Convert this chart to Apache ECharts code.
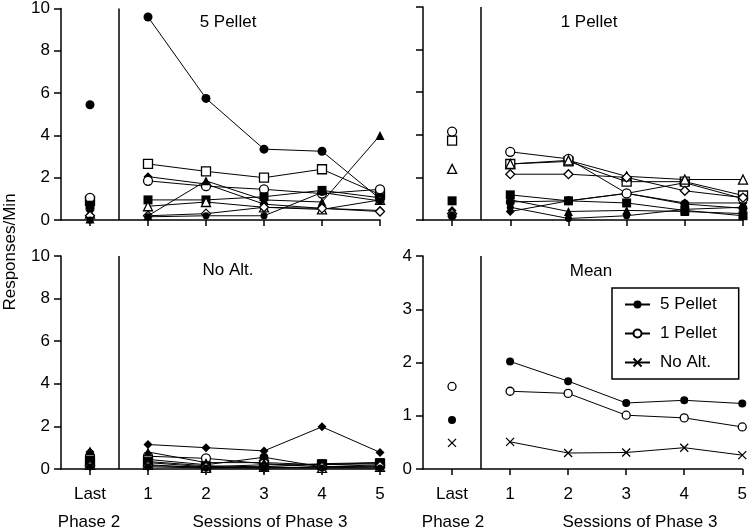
<!DOCTYPE html>
<html><head><meta charset="utf-8">
<script src="https://cdn.jsdelivr.net/npm/echarts@6/dist/echarts.min.js"></script>
<style>html,body{margin:0;padding:0;background:#fff}#c{width:750px;height:531px}</style>
</head><body><div id="c"></div>
<script>
// ---------- DATA ----------
const xPositions = [0, 1, 2, 3, 4, 5];            // "Last" of Phase 2, then sessions 1-5 of Phase 3
const xTickLabels = ['Last', '1', '2', '3', '4', '5'];
const panelTitles = ['5 Pellet', '1 Pellet', 'No Alt.', 'Mean'];
const groupAxisTitles = ['Phase 2', 'Sessions of Phase 3'];
const yAxisTitle = 'Responses/Min';

// individual subjects: [Last, S1, S2, S3, S4, S5]
const fivePellet = [
  [5.45, 9.6, 5.75, 3.35, 3.25, 1.0],
  [0.9, 2.65, 2.3, 2.0, 2.4, 1.2],
  [0.45, 2.05, 1.7, 0.75, 0.55, 0.45],
  [1.05, 1.85, 1.6, 1.45, 1.25, 1.45],
  [0.7, 0.95, 0.95, 1.1, 1.4, 1.05],
  [0.05, 0.2, 1.85, 0.95, 0.85, 4.0],
  [0.3, 0.65, 0.85, 0.6, 0.5, 0.95],
  [0.2, 0.2, 0.3, 0.6, 0.55, 0.4],
  [0.0, 0.15, 0.2, 0.2, 1.3, 0.9]
];
const onePellet = [
  [0.2, 0.85, 0.9, 1.25, 0.75, 0.55],
  [3.73, 2.63, 2.75, 1.8, 1.8, 1.15],
  [0.45, 0.4, 0.9, 1.25, 0.8, 0.8],
  [4.15, 3.2, 2.87, 1.25, 1.75, 1.0],
  [0.9, 1.18, 0.9, 0.8, 0.45, 0.2],
  [0.35, 0.95, 0.4, 0.45, 0.4, 0.3],
  [2.4, 2.63, 2.8, 2.05, 1.9, 1.9],
  [0.3, 2.15, 2.15, 2.0, 1.37, 1.05],
  [0.25, 0.6, 0.07, 0.2, 0.5, 0.6]
];
const noAlt = [
  [0.5, 0.45, 0.2, 0.55, 0.1, 0.1],
  [0.3, 0.3, 0.1, 0.2, 0.2, 0.25],
  [0.8, 1.15, 1.0, 0.85, 1.98, 0.78],
  [0.6, 0.6, 0.5, 0.25, 0.1, 0.2],
  [0.4, 0.35, 0.15, 0.1, 0.25, 0.3],
  [0.85, 0.8, 0.3, 0.3, 0.2, 0.3],
  [0.2, 0.2, 0.05, 0.1, 0.05, 0.1],
  [0.15, 0.15, 0.1, 0.05, 0.1, 0.15],
  [0.1, 0.1, 0.05, 0.05, 0.05, 0.05]
];
const meanNames = ['5 Pellet', '1 Pellet', 'No Alt.'];
const mean5Pellet = [0.92, 2.02, 1.65, 1.24, 1.29, 1.23];
const mean1Pellet = [1.55, 1.46, 1.42, 1.01, 0.96, 0.79];
const meanNoAlt = [0.49, 0.51, 0.30, 0.31, 0.40, 0.26];

// ---------- STYLE ----------
const FONT = '"Liberation Sans", Arial, Helvetica, sans-serif';
const subjectSymbols = ['circle', 'rect', 'diamond', 'circle', 'rect', 'triangle', 'triangle', 'diamond', 'circle'];
const subjectFilled = [true, false, true, false, true, true, false, false, true];
const subjectSizes = [9, 9, 9, 9, 9, 9, 9, 9, 7];
const crossPath = 'path://M0,0L10,10M10,0L0,10';

const gapX = (xPositions[0] + xPositions[1]) / 2;
function toData(vals) {
  const d = [[xPositions[0], vals[0]], [gapX, '-']];
  for (let i = 1; i < vals.length; i++) d.push([xPositions[i], vals[i]]);
  return d;
}

const grids = [
  { left: 61, right: 370, top: 7, bottom: 311 },
  { left: 423, right: 7, top: 7, bottom: 311 },
  { left: 61, right: 370, top: 256, bottom: 62 },
  { left: 423, right: 7, top: 256, bottom: 62 }
];
const yMax = [10, 10, 10, 4];
const yInt = [2, 2, 2, 1];
const showYLabels = [true, false, true, true];
const showXLabels = [false, false, true, true];

const xAxes = grids.map((g, i) => ({
  type: 'value', gridIndex: i, min: -0.5, max: 5,
  axisLine: { show: true, onZero: false, lineStyle: { color: '#000', width: 1.5 } },
  axisTick: { show: true, length: 6, lineStyle: { color: '#000', width: 1.5 }, customValues: xPositions },
  axisLabel: { show: showXLabels[i], customValues: xPositions, margin: 17,
    formatter: v => xTickLabels[xPositions.indexOf(Math.round(v))] ?? '',
    color: '#000', fontSize: 17, fontFamily: FONT },
  splitLine: { show: false }
}));
const yAxes = grids.map((g, i) => ({
  type: 'value', gridIndex: i, min: 0, max: yMax[i], interval: yInt[i],
  axisLine: { show: true, onZero: false, lineStyle: { color: '#000', width: 1.5 } },
  axisTick: { show: true, length: 7, lineStyle: { color: '#000', width: 1.5 } },
  axisLabel: { show: showYLabels[i], margin: 11, color: '#000', fontSize: 17, fontFamily: FONT },
  splitLine: { show: false }
}));

const series = [];
const dividerMark = {
  silent: true, symbol: ['none', 'none'], label: { show: false },
  lineStyle: { color: '#000', width: 1.5, type: 'solid' },
  data: [{ xAxis: gapX }]
};
[fivePellet, onePellet, noAlt].forEach((panel, pi) => {
  const gi = pi;
  panel.forEach((vals, si) => {
    const filled = subjectFilled[si];
    series.push({
      type: 'line', name: 'subj' + pi + '_' + si,
      xAxisIndex: gi, yAxisIndex: gi,
      data: toData(vals),
      symbol: subjectSymbols[si], symbolSize: subjectSizes[si],
      showSymbol: true, showAllSymbol: true,
      lineStyle: { color: '#000', width: 1 },
      itemStyle: { color: filled ? '#000' : '#fff', borderColor: '#000', borderWidth: filled ? 0 : 1.3 },
      emphasis: { disabled: true },
      markLine: si === 0 ? dividerMark : undefined,
      z: 2
    });
  });
});
const meanSets = [mean5Pellet, mean1Pellet, meanNoAlt];
const meanSymbols = ['circle', 'circle', crossPath];
const meanFill = ['#000', '#fff', '#000'];
const meanBorder = [0, 1.3, 1.3];
meanSets.forEach((vals, i) => {
  series.push({
    type: 'line', name: meanNames[i], xAxisIndex: 3, yAxisIndex: 3,
    data: toData(vals),
    symbol: meanSymbols[i], symbolSize: 8, showAllSymbol: true,
    lineStyle: { color: '#000', width: 1 },
    itemStyle: { color: meanFill[i], borderColor: '#000', borderWidth: meanBorder[i] },
    emphasis: { disabled: true },
    markLine: i === 0 ? dividerMark : undefined
  });
});

const titlePos = [[228, 22], [589, 22], [228, 270], [591, 271]];
const graphics = panelTitles.map((t, i) => ({
  type: 'text', x: titlePos[i][0], y: titlePos[i][1],
  style: { text: t, fill: '#000', fontSize: 17, fontFamily: FONT, align: 'center', verticalAlign: 'middle' }
}));
[[89, 522], [453, 522]].forEach(p => graphics.push({
  type: 'text', x: p[0], y: p[1],
  style: { text: groupAxisTitles[0], fill: '#000', fontSize: 17, fontFamily: FONT, align: 'center', verticalAlign: 'middle' }
}));
[[270, 522], [640, 522]].forEach(p => graphics.push({
  type: 'text', x: p[0], y: p[1],
  style: { text: groupAxisTitles[1], fill: '#000', fontSize: 17, fontFamily: FONT, align: 'center', verticalAlign: 'middle' }
}));
graphics.push({
  type: 'text', x: 10, y: 252, rotation: Math.PI / 2,
  style: { text: yAxisTitle, fill: '#000', fontSize: 17, fontFamily: FONT, align: 'center', verticalAlign: 'middle' }
});

const chart = echarts.init(document.getElementById('c'), null, { renderer: 'canvas' });
chart.setOption({
  animation: false,
  backgroundColor: '#fff',
  grid: grids,
  xAxis: xAxes,
  yAxis: yAxes,
  legend: {
    data: meanNames, orient: 'vertical', left: 612, top: 288,
    padding: [8, 22, 8, 12], itemWidth: 25, itemHeight: 10, itemGap: 12,
    borderColor: '#000', borderWidth: 1.5, borderRadius: 0,
    textStyle: { color: '#000', fontSize: 17, fontFamily: FONT, padding: [0, 0, 0, 5] },
    selectedMode: false
  },
  series: series,
  graphic: graphics
});
</script></body></html>
